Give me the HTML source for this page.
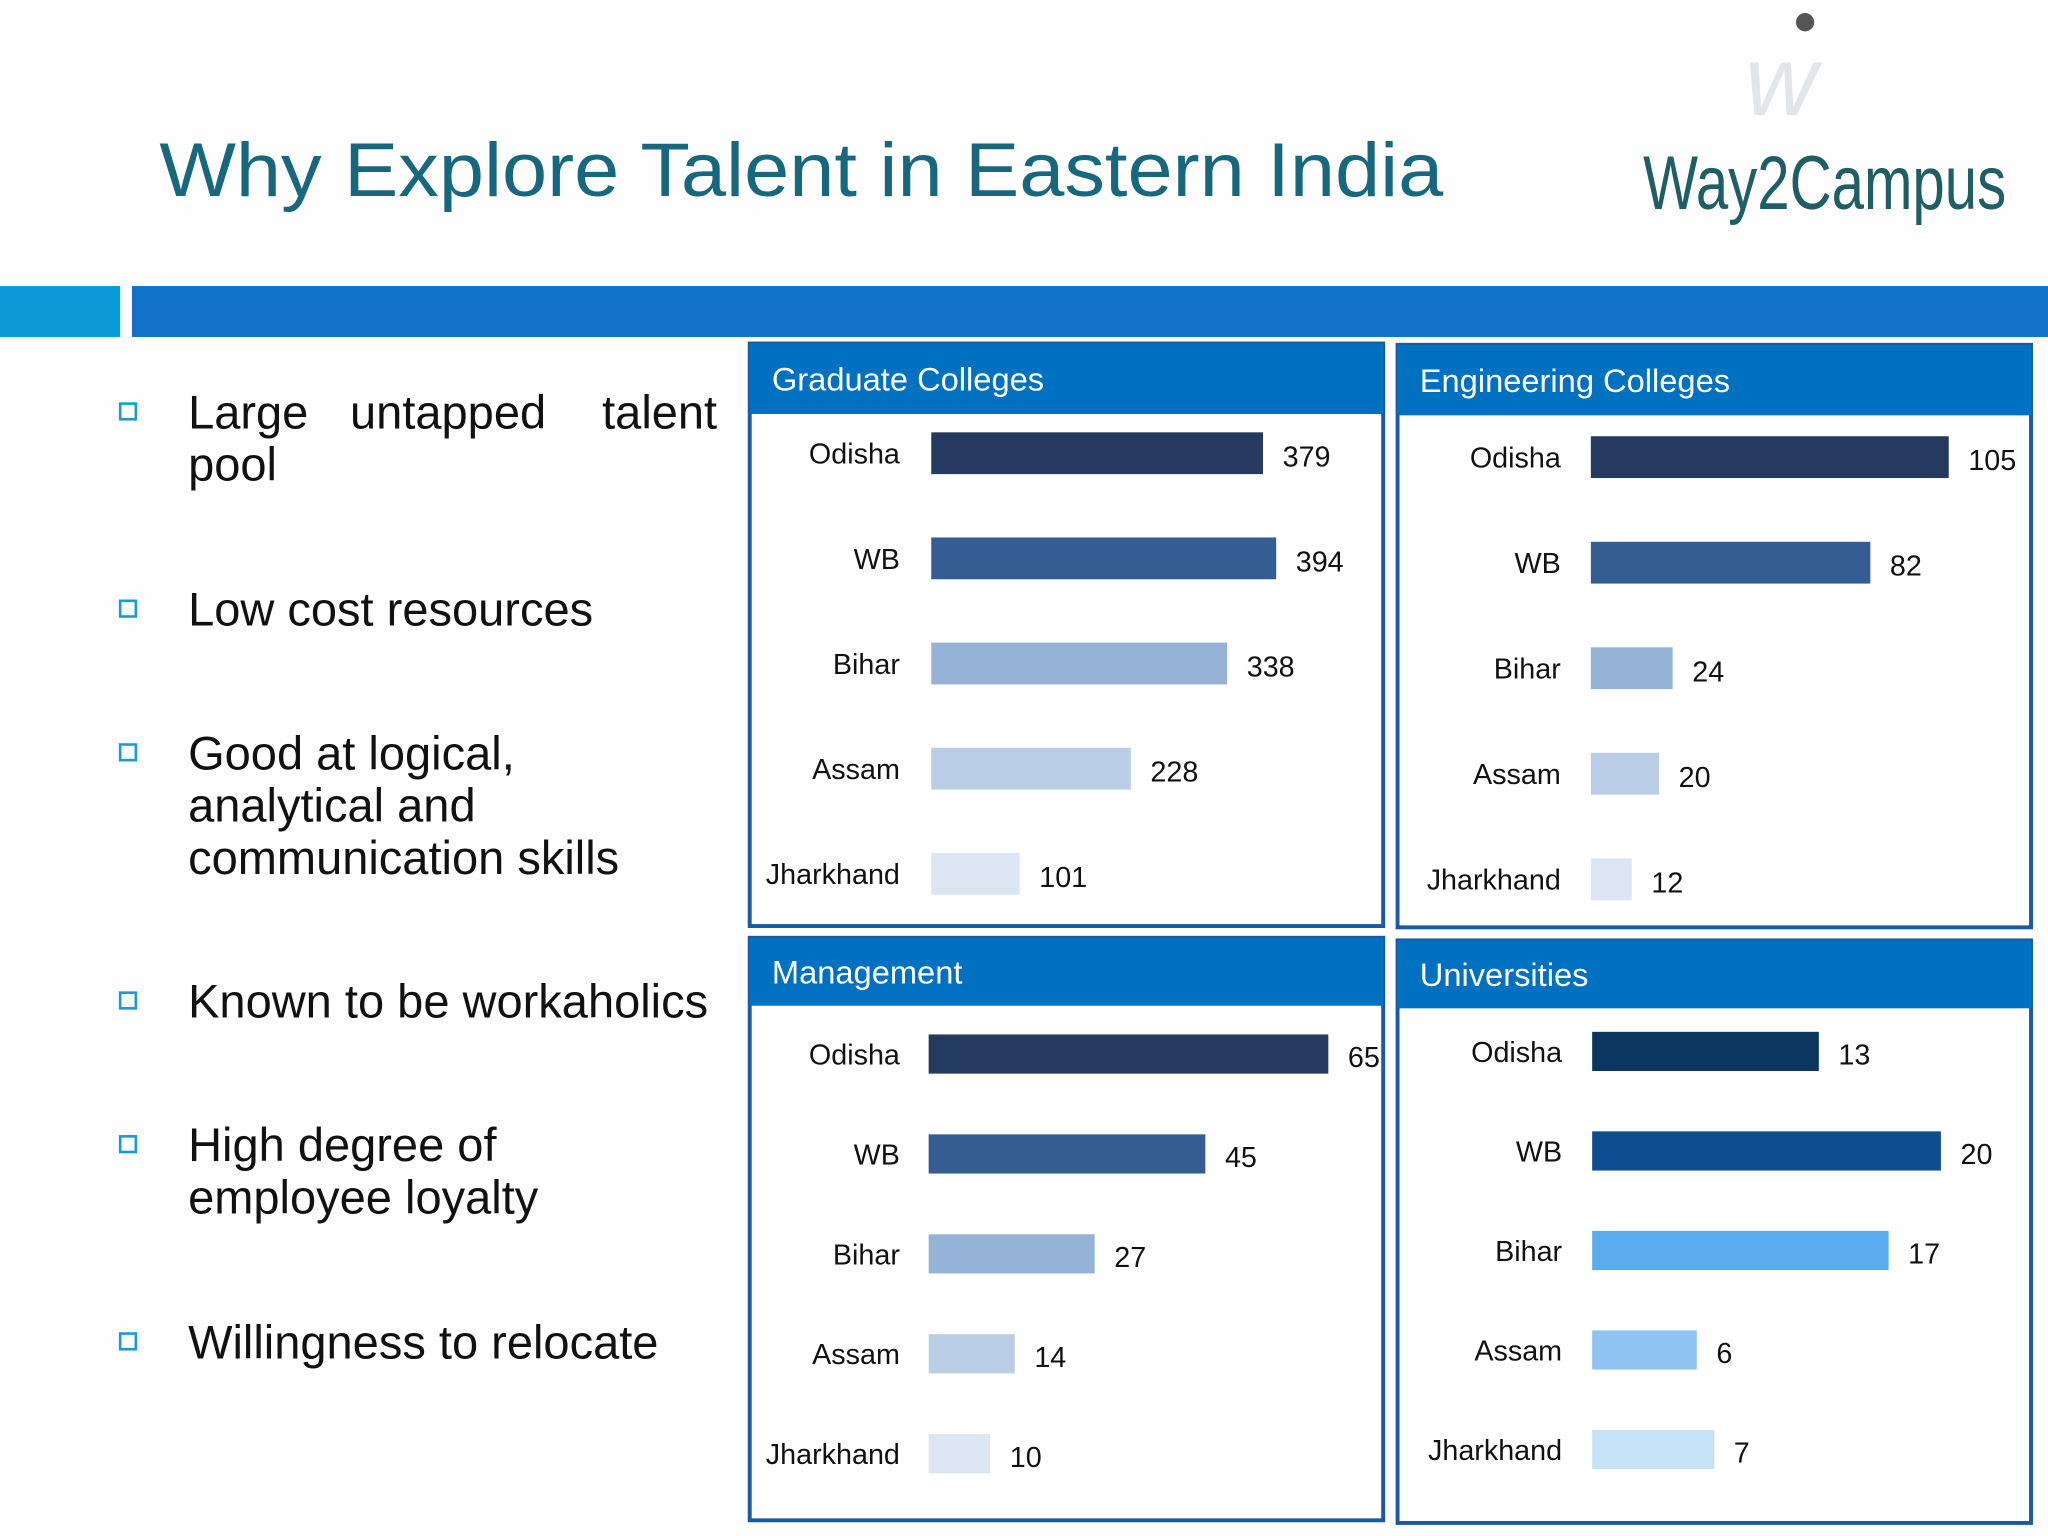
<!DOCTYPE html>
<html><head><meta charset="utf-8"><style>
html,body{margin:0;padding:0;background:#fff}
svg{display:block}
text{font-family:"Liberation Sans",sans-serif}
</style></head><body>
<svg id="slide" width="2048" height="1536" viewBox="0 0 1568 1176" xmlns="http://www.w3.org/2000/svg">
<rect x="0" y="0" width="1568" height="1176" fill="#fefefe"/>
<text x="122" y="150" font-size="58" fill="#17687e" textLength="983" lengthAdjust="spacingAndGlyphs">Why Explore Talent in Eastern India</text>
<g>
<circle cx="1382" cy="17" r="7" fill="#555"/>
<text x="1336" y="88" font-size="76" font-style="italic" fill="#e2e6e8" font-family="Liberation Serif">w</text>
<text x="1258" y="160" font-size="58" fill="#1e5e64" textLength="278" lengthAdjust="spacingAndGlyphs">Way2Campus</text>
</g>
<rect x="0" y="219" width="92" height="39" fill="#0a9ad8"/>
<rect x="101" y="219" width="1467" height="39" fill="#1272c8"/>
<g id="bullets"></g>
<g id="charts"></g>
</svg>
<script>
const categories = ["Odisha","WB","Bihar","Assam","Jharkhand"];
const graduateValues = [379,394,338,228,101];
const engineeringValues = [105,82,24,20,12];
const managementValues = [65,45,27,14,10];
const universityValues = [13,20,17,6,7];
const bulletTexts = [["Large untapped talent","pool"],["Low cost resources"],["Good at logical,","analytical  and","communication skills"],["Known to be workaholics"],["High degree of","employee loyalty"],["Willingness to relocate"]];

const NS="http://www.w3.org/2000/svg";
function mk(tag,attrs,parent){const e=document.createElementNS(NS,tag);for(const k in attrs)e.setAttribute(k,attrs[k]);parent.appendChild(e);return e;}

const bl=document.getElementById('bullets');
const bulletY=[[315,355],[466],[576,616,656],[766],[876,916],[1027]];
bulletTexts.forEach((lines,i)=>{
  const sq=mk('rect',{x:92,y:bulletY[i][0]-6,width:12,height:12,fill:'none',stroke:'#1a9bd0','stroke-width':2},bl);
  
  
  lines.forEach((l,j)=>{
    if(i===0&&j===0){
      const words=l.split(' ');
      const xs=[144,268,461];
      words.forEach((w,k)=>{
        const t=mk('text',{x:xs[k],y:bulletY[i][j]+13,'font-size':36,fill:'#111'},bl);
        t.textContent=w;
        
        
      });
      return;
    }
    const t=mk('text',{x:144,y:bulletY[i][j]+13,'font-size':36,fill:'#111','xml:space':'preserve'},bl);
    t.textContent=l;
    
    
  });
});

const panels=[
 {title:"Graduate Colleges",x:574,y:263,hh:54,vals:graduateValues,x0:713,maxV:379,maxW:254,labelX:689,cy0:347,step:80.5,bh:32,colors:["#243a5e","#335d93","#95b3d7","#b9cde5","#dce6f2"],name:'graduate-colleges'},
 {title:"Engineering Colleges",x:1070,y:264,hh:54,vals:engineeringValues,x0:1218,maxV:105,maxW:274,labelX:1195,cy0:350,step:80.8,bh:32,colors:["#243a5e","#335d93","#95b3d7","#b9cde5","#dce6f2"],name:'engineering-colleges'},
 {title:"Management",x:574,y:718,hh:52,vals:managementValues,x0:711,maxV:65,maxW:306,labelX:689,cy0:807,step:76.5,bh:30,colors:["#243a5e","#335d93","#95b3d7","#b9cde5","#dce6f2"],name:'management'},
 {title:"Universities",x:1070,y:720,hh:52,vals:universityValues,x0:1219,maxV:20,maxW:267,labelX:1196,cy0:805,step:76.2,bh:30,colors:["#0b3660","#0e4d8f","#5aabf0","#8fc4f2","#c5e2f7"],name:'universities'}
];
const ch=document.getElementById('charts');
panels.forEach(p=>{
  const g=mk('g',{},ch);
  
  
  const b=mk('rect',{x:p.x,y:p.y,width:485,height:446,fill:'#fff',stroke:'#1a5aa0','stroke-width':3},g);
  
  
  const h=mk('rect',{x:p.x,y:p.y,width:485,height:p.hh,fill:'#0070c0'},g);
  
  
  const t=mk('text',{x:p.x+17,y:p.y+p.hh/2+9,'font-size':25,fill:'#fff'},g);
  t.textContent=p.title;
  
  
  const sx=v=>v/p.maxV*p.maxW;
  p.vals.forEach((v,i)=>{
    const cy=p.cy0+i*p.step;
    const r=mk('rect',{x:p.x0,y:cy-p.bh/2,width:sx(v),height:p.bh,fill:p.colors[i]},g);
    
    
    const l=mk('text',{x:p.labelX,y:cy+8,'font-size':22,fill:'#111','text-anchor':'end'},g);
    l.textContent=categories[i];
    
    
    const vl=mk('text',{x:p.x0+sx(v)+15,y:cy+10,'font-size':22,fill:'#111'},g);
    vl.textContent=v;
    
    
  });
});
</script>
</body></html>
